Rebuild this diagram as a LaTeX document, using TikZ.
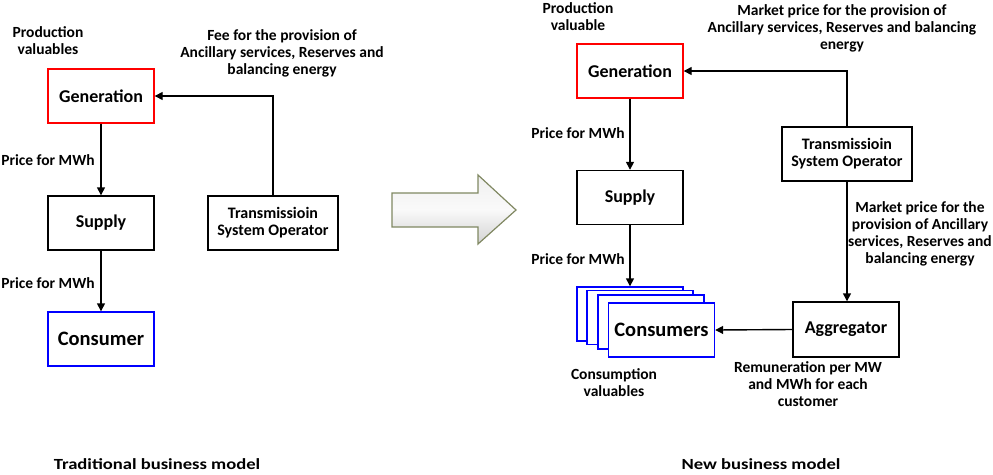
\documentclass[tikz,border=0pt]{standalone}
\usepackage{fontspec}
\setmainfont{Carlito}
\newfontfamily\titlefont{Carlito}[FakeStretch=1.2]
\usetikzlibrary{arrows.meta}
\definecolor{arrowrim}{RGB}{128,136,98}

\begin{document}
\begin{tikzpicture}[x=1pt,y=-1pt,
  >={Triangle[length=8pt,width=8pt]},
  box/.style={draw,line width=1.4pt,minimum width=106pt,minimum height=54pt,inner sep=0pt,
    font=\fontsize{18}{21}\selectfont\bfseries},
  bigbox/.style={box,font=\fontsize{20.5}{24}\selectfont\bfseries},
  tsobox/.style={box,minimum width=130pt,align=center,font=\fontsize{16}{17}\selectfont\bfseries},
  lbl/.style={align=center,inner sep=0pt,font=\fontsize{15.5}{17}\selectfont\bfseries},
  ttl/.style={inner sep=0pt,font=\titlefont\fontsize{15.5}{18}\selectfont\bfseries},
  flow/.style={->,line width=1.4pt}]
  \useasboundingbox (0,0) rectangle (993,474);

  % traditional model
  \node[box,draw=red] (genL) at (101,96) {Generation};
  \node[box] (supL) at (101,223) {Supply};
  \node[bigbox,draw=blue] (conL) at (101,339) {Consumer};
  \node[tsobox] (tsoL) at (273,223) {Transmissioin\\System Operator};

  \node[lbl] (prodL) at (48,41) {Production\\valuables};
  \node[lbl] (feeL) at (282,53) {Fee for the provision of\\Ancillary services, Reserves and\\balancing energy};
  \node[lbl] (priceL1) at (48,160) {Price for MWh};
  \node[lbl] (priceL2) at (48,283) {Price for MWh};

  \draw[flow] (genL) -- (supL);
  \draw[flow] (supL) -- (conL);
  \draw[flow] (tsoL.north) |- (genL.east);

  % big arrow
  \draw[arrowrim,line width=1.2pt,top color=gray!12,bottom color=gray!35,middle color=gray!4]
    (392,193) -- (478,193) -- (478,175) -- (516,210) -- (478,244) -- (478,227) -- (392,227) -- cycle;

  % new model
  \node[box,draw=red] (genR) at (630,71) {Generation};
  \node[box] (supR) at (630,197.5) {Supply};
  \node[tsobox] (tsoR) at (847,154) {Transmissioin\\System Operator};
  \node[box,minimum height=55pt] (aggR) at (846,329.5) {Aggregator};

  \node[box,draw=blue,fill=white] (c1) at (630,314) {};
  \node[box,draw=blue,fill=white] (c2) at (640,317.5) {};
  \node[box,draw=blue,fill=white] (c3) at (651,322) {};
  \node[bigbox,draw=blue,fill=white] (conR) at (661.5,330) {Consumers};

  \node[lbl] (prodR) at (578,17) {Production\\valuable};
  \node[lbl] (mktTop) at (842,28) {Market price for the provision of\\Ancillary services, Reserves and balancing\\energy};
  \node[lbl] (priceR1) at (578,133) {Price for MWh};
  \node[lbl] (priceR2) at (578,259) {Price for MWh};
  \node[lbl] (mktSide) at (920,234) {Market price for the\\provision of Ancillary\\services, Reserves and\\balancing energy};
  \node[lbl] (consVal) at (614,383) {Consumption\\valuables};
  \node[lbl] (remun) at (808,384) {Remuneration per MW\\and MWh for each\\customer};

  \draw[flow] (genR) -- (supR);
  \draw[flow] (supR.south) -- (c1.north);
  \draw[flow] (tsoR.north) |- (genR.east);
  \draw[flow] (tsoR.south) -- (tsoR.south |- aggR.north);
  \draw[flow] (aggR.west) -- (conR.east);

  % titles
  \node[ttl] (titleL) at (157,464) {Traditional business model};
  \node[ttl] (titleR) at (761,464) {New business model};
\end{tikzpicture}
\end{document}
